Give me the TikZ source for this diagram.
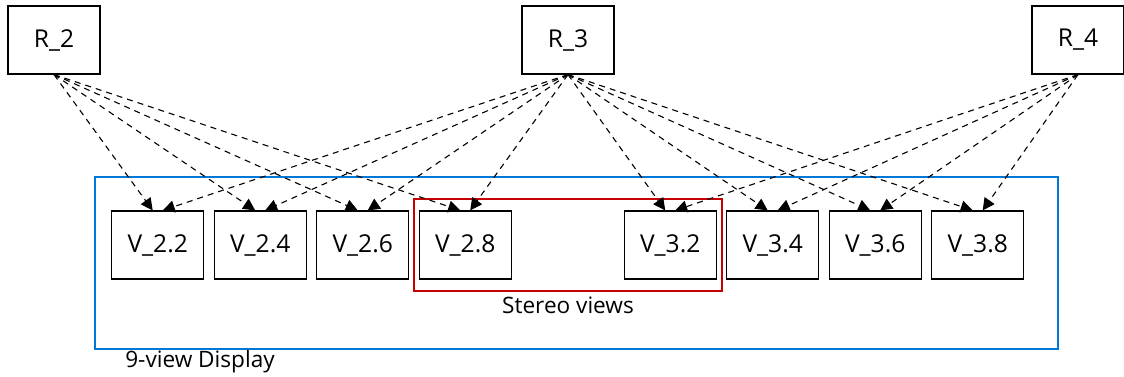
\documentclass[tikz,border=0pt]{standalone}
\usepackage{fontspec}
\setmainfont{Open Sans}
\usepackage{tikz}
\usetikzlibrary{arrows.meta,positioning}
\definecolor{displayblue}{RGB}{0,120,215}
\definecolor{stereored}{RGB}{200,0,0}

\begin{document}
\begin{tikzpicture}[x=0.5pt, y=-0.5pt, >={Triangle[length=6pt,width=6pt]}, on grid, node distance=51.25pt, font=\fontsize{12.3}{15}\selectfont]
\tikzstyle{view}=[draw=black,line width=0.6pt,minimum width=46pt,minimum height=34pt,inner sep=0pt]
\tikzstyle{link}=[->,draw=black,dash pattern=on 3pt off 2.5pt,line width=0.55pt]
\tikzstyle{grouplabel}=[font=\fontsize{11.3}{14}\selectfont]
\useasboundingbox (0,0) rectangle (1124,376);
% groups
\draw[displayblue, line width=0.6pt] (95,177) rectangle (1058,349);
\draw[stereored, line width=0.6pt] (414,199) rectangle (722,291);
\node[grouplabel] (display) at (200,362) {9-view Display};
\node[grouplabel] (stereo)  at (568,305) {Stereo views};
% references
\node[view]    (R2) at (54,40)    {R\_2};
\node[view]    (R3) at (568,40)   {R\_3};
\node[view]    (R4) at (1078,40)  {R\_4};
% views
\node[view]    (V22) at (157.7,245) {V\_2.2};
\node[view]    (V24)[right=of V22]  {V\_2.4};
\node[view]    (V26)[right=of V24]  {V\_2.6};
\node[view]    (V28)[right=of V26]  {V\_2.8};
\node[view]    (V32)[right=102.5pt of V28] {V\_3.2};
\node[view]    (V34)[right=of V32]  {V\_3.4};
\node[view]    (V36)[right=of V34]  {V\_3.6};
\node[view]    (V38)[right=of V36]  {V\_3.8};
\path
(R2.south) edge[link]     ([xshift=-2.5pt]V22.north)
           edge[link]     ([xshift=-2.5pt]V24.north)
           edge[link]     ([xshift=-2.5pt]V26.north)
           edge[link]     ([xshift=-2.5pt]V28.north)
(R3.south) edge[link]     ([xshift=2.5pt]V22.north)
           edge[link]     ([xshift=2.5pt]V24.north)
           edge[link]     ([xshift=2.5pt]V26.north)
           edge[link]     ([xshift=2.5pt]V28.north)
           edge[link]     ([xshift=-2.5pt]V32.north)
           edge[link]     ([xshift=-2.5pt]V34.north)
           edge[link]     ([xshift=-2.5pt]V36.north)
           edge[link]     ([xshift=-2.5pt]V38.north)
(R4.south) edge[link]     ([xshift=2.5pt]V32.north)
           edge[link]     ([xshift=2.5pt]V34.north)
           edge[link]     ([xshift=2.5pt]V36.north)
           edge[link]     ([xshift=2.5pt]V38.north);
\end{tikzpicture}
\end{document}
